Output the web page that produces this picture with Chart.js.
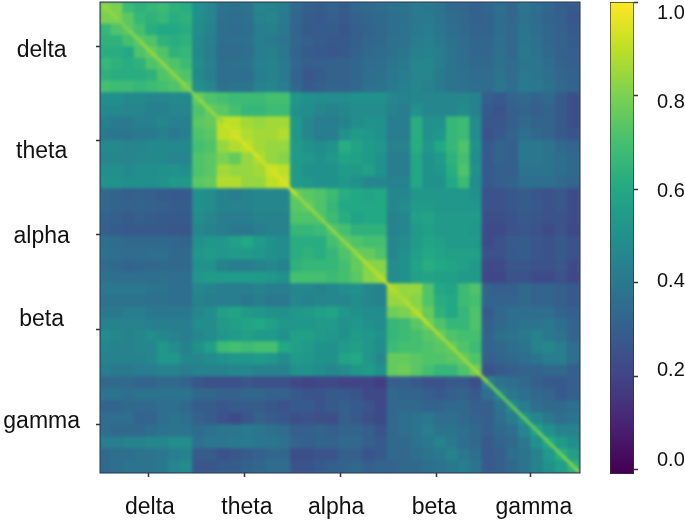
<!DOCTYPE html>
<html>
<head>
<meta charset="utf-8">
<title>Band correlation matrix</title>
<script src="https://cdn.jsdelivr.net/npm/chart.js@4/dist/chart.umd.js"></script>
<style>
    html, body { margin: 0; padding: 0; background: #fff; }
    #page { position: relative; width: 685px; height: 520px; overflow: hidden; }
    #heatBox { position: absolute; left: 100px; top: 2px; width: 480px; height: 471px; overflow: hidden; background: #2a788e; }
    #heatChart { filter: blur(1.6px); }
    #axisChart { position: absolute; left: 0; top: 0; }
    #barChart { position: absolute; left: 600px; top: 0; }
</style>
</head>
<body>
<div id="page">
    <div id="heatBox"><canvas id="heatChart" width="480" height="471"></canvas></div>
    <canvas id="axisChart" width="600" height="520"></canvas>
    <canvas id="barChart" width="85" height="520"></canvas>
</div>
<script>
// Labels
const bands = ['delta', 'theta', 'alpha', 'beta', 'gamma'];
const colorTicks = [0, 0.2, 0.4, 0.6, 0.8, 1];
const colorTickLabels = ['0.0', '0.2', '0.4', '0.6', '0.8', '1.0'];

// Values, in hundredths, 8 cells per band
const deltaRows = [
    [82,80,68,64,66,68,64,62, 50,46,38,37,38,45,44,42, 34,30,29,31,29,33,34,35, 37,38,41,40,38,34,33,31, 33,36,33,39,36,33,30,28],
    [80,80,74,66,64,66,62,64, 49,45,37,36,37,44,45,41, 33,29,28,30,28,31,33,34, 36,37,40,41,38,35,34,31, 32,35,33,38,35,32,30,27],
    [66,72,74,70,62,60,60,62, 48,44,36,35,36,42,43,40, 32,28,29,29,27,30,32,34, 36,38,41,42,39,36,34,32, 32,35,34,39,36,33,31,28],
    [64,64,70,74,72,64,62,64, 47,43,36,36,37,42,41,39, 33,30,29,28,28,30,33,34, 37,38,42,43,40,37,35,33, 33,36,34,39,37,33,31,29],
    [62,62,60,72,76,72,64,66, 47,42,35,35,36,42,43,40, 32,29,28,27,28,31,34,35, 37,39,43,44,42,38,36,33, 33,37,34,40,38,34,31,30],
    [66,64,62,64,72,74,72,68, 48,43,36,37,38,43,44,41, 33,30,30,31,31,33,35,36, 39,41,45,46,42,38,36,34, 34,37,35,39,39,35,32,30],
    [64,62,62,62,64,72,74,72, 47,42,36,36,36,42,44,41, 32,27,29,31,31,33,36,37, 40,42,45,45,41,38,37,35, 35,38,35,41,39,36,33,31],
    [70,68,68,66,68,70,72,76, 49,45,37,38,38,44,45,42, 33,28,30,32,32,34,37,38, 41,43,45,44,41,38,37,36, 35,39,36,41,40,37,34,32]
];
const thetaRows = [
    [49,49,47,47,45,45,47,47, 76,72,70,68,68,68,70,70, 52,50,48,48,48,50,50,50, 46,44,46,46,46,46,46,44, 30,28,32,34,32,34,28,24],
    [47,47,45,45,43,43,45,45, 72,76,74,70,66,66,68,68, 50,48,45,44,46,48,48,48, 44,42,50,46,46,46,48,44, 28,26,30,32,30,32,28,24],
    [43,41,41,43,43,45,43,43, 74,76,90,90,86,84,86,86, 52,46,42,42,44,48,50,50, 42,42,62,50,50,66,68,48, 27,27,30,34,32,32,28,24],
    [41,39,39,41,41,43,41,43, 72,74,90,92,88,86,86,88, 52,46,42,42,50,54,52,50, 42,42,62,50,52,66,68,48, 26,28,32,36,34,32,28,26],
    [47,47,45,45,47,47,47,47, 70,72,84,88,90,86,84,84, 54,50,48,50,62,58,54,52, 44,44,62,52,60,66,72,50, 28,32,30,40,40,38,34,32],
    [45,45,45,47,47,47,45,45, 72,74,80,76,84,88,84,82, 54,52,50,52,58,56,54,50, 42,42,60,50,54,64,70,48, 28,32,30,40,40,38,36,34],
    [49,49,47,49,49,50,51,49, 72,74,86,84,84,86,92,90, 54,50,50,50,54,54,56,50, 42,42,60,50,52,62,72,50, 28,30,30,38,38,38,36,34],
    [51,51,49,49,49,51,53,53, 74,76,88,88,84,84,90,92, 54,52,50,50,52,50,46,46, 44,44,60,50,50,60,68,48, 28,30,32,36,36,36,34,32]
];
const alphaRows = [
    [34,32,30,31,30,29,28,28, 50,48,44,42,44,46,46,46, 76,74,72,68,62,60,58,60, 46,46,52,52,52,52,52,50, 25,25,27,29,27,25,27,23],
    [34,32,31,32,31,30,29,29, 50,48,44,44,44,46,46,46, 74,76,72,66,60,60,60,60, 46,48,54,54,52,52,52,52, 25,25,27,29,28,25,27,23],
    [32,30,29,30,29,28,28,28, 48,46,42,42,42,44,44,44, 72,72,72,68,62,58,60,60, 44,46,56,58,54,54,54,54, 24,24,26,28,27,25,26,23],
    [30,29,28,28,28,28,27,27, 46,44,42,40,40,42,44,44, 66,66,68,72,70,64,64,64, 44,46,54,56,54,54,54,52, 23,23,25,27,25,23,25,22],
    [36,35,34,34,34,34,33,32, 50,52,52,56,60,54,50,48, 62,62,62,70,74,72,70,70, 46,48,54,58,56,54,54,54, 23,25,29,29,27,25,28,25],
    [37,36,35,35,36,36,34,34, 52,54,52,54,54,52,50,48, 62,64,62,66,72,76,76,72, 46,50,56,60,58,56,56,56, 25,25,28,29,27,26,28,25],
    [35,34,32,33,34,34,34,34, 50,50,44,42,42,44,46,44, 64,66,66,66,70,76,82,82, 48,50,58,62,60,58,56,54, 22,23,27,27,25,25,27,23],
    [37,36,36,36,36,37,36,36, 52,54,54,54,54,54,52,50, 70,70,70,68,70,74,82,84, 48,50,56,58,56,56,54,54, 21,21,25,25,23,23,25,21]
];
const betaRows = [
    [40,40,40,40,38,38,36,36, 46,44,42,42,42,44,42,42, 46,46,44,46,48,50,46,44, 86,84,84,72,60,58,68,72, 32,30,30,34,32,32,30,28],
    [38,38,38,38,37,37,36,36, 44,42,42,42,40,42,40,40, 46,44,46,46,46,48,46,44, 84,84,82,72,62,60,68,70, 32,32,32,34,32,32,30,28],
    [40,40,42,42,40,40,40,40, 46,48,56,58,54,52,50,50, 52,54,56,58,52,50,48,48, 78,80,84,76,64,60,66,72, 28,34,36,36,36,36,32,30],
    [44,44,44,44,42,42,42,42, 48,48,54,56,58,60,56,52, 52,52,54,54,50,52,50,48, 66,68,74,78,72,66,66,72, 30,34,36,38,38,40,36,32],
    [48,46,44,46,48,46,44,42, 46,48,52,54,56,54,54,50, 56,56,54,52,50,54,52,50, 66,68,70,74,76,72,70,70, 32,36,38,40,44,40,38,32],
    [46,44,44,46,46,52,48,44, 50,56,68,70,68,70,70,60, 56,54,50,50,54,56,52,48, 68,70,70,72,74,76,72,68, 32,34,36,38,44,46,42,36],
    [44,44,44,44,46,52,52,46, 46,48,50,52,52,54,52,48, 54,52,50,50,58,60,52,46, 76,76,74,72,72,74,76,72, 30,32,34,36,38,42,42,36],
    [42,40,40,42,42,44,44,42, 44,44,44,46,46,44,44,44, 50,50,48,46,48,52,54,50, 76,78,74,70,66,66,72,78, 26,28,30,32,32,34,34,30]
];
const gammaRows = [
    [34,34,34,32,32,34,34,32, 27,25,25,25,27,25,25,25, 22,20,22,22,20,20,20,18, 30,30,28,26,26,28,28,24, 44,38,36,34,30,28,28,30],
    [38,38,36,38,38,38,38,38, 33,33,31,31,33,33,31,31, 28,26,26,28,28,26,22,22, 34,32,32,30,28,30,32,28, 36,44,40,36,34,32,28,30],
    [32,32,34,34,34,36,36,34, 29,29,27,29,29,29,27,25, 28,28,26,28,30,28,26,22, 34,34,34,32,32,34,34,30, 30,38,46,42,36,34,34,36],
    [36,36,36,32,32,36,38,36, 31,29,25,23,27,31,29,27, 24,26,24,24,30,28,24,22, 34,36,38,40,36,36,34,32, 30,36,42,50,46,40,36,38],
    [36,34,34,34,36,38,38,38, 35,37,39,39,41,39,37,35, 30,30,32,30,32,32,30,26, 34,36,38,42,38,38,36,34, 30,34,36,46,56,50,44,44],
    [42,42,44,44,46,46,48,48, 37,39,39,41,41,39,39,37, 32,30,32,32,34,34,30,28, 34,34,38,40,44,40,36,34, 28,32,34,40,50,60,54,48],
    [34,36,36,38,38,40,42,44, 29,29,25,27,29,31,33,33, 24,24,26,26,30,30,26,28, 34,34,36,38,40,44,40,36, 28,30,36,38,44,54,62,56],
    [34,36,38,38,38,40,46,48, 27,27,29,29,31,33,35,35, 26,26,28,30,32,34,30,32, 32,34,34,36,38,40,42,38, 28,30,34,38,44,50,56,64]
];
const cellValues = [...deltaRows, ...thetaRows, ...alphaRows, ...betaRows, ...gammaRows];

// The bright thin line on the diagonal
const diagonalValues = [
    84,80,82,84,84,84,84,82,
    84,84,92,94,94,92,94,94,
    84,84,84,84,86,88,90,90,
    88,90,92,88,86,86,86,86,
    78,76,78,78,80,80,82,84
];

// Axis ticks, in matrix units (0 - 100)
const bandEdges = [0, 19.3, 39.7, 59.9, 79.6, 100];
const xTickValues = [10, 30, 50, 70, 89.6];
const yTickValues = [9.4, 29.5, 49.4, 69.6, 89.6];
const xLabelValues = [10.4, 30.6, 49.2, 69.6, 90.4];
const yLabelValues = [10.4, 31.8, 49.8, 67.4, 89.2];

// Viridis
const viridis = ['#440154','#482475','#414487','#355f8d','#2a788e','#21918c','#22a884','#44bf70','#7ad151','#bddf26','#fde725'];
const viridisRgb = viridis.map(function(hex){
    return [1, 3, 5].map(function(i){ return parseInt(hex.substr(i, 2), 16); });
});
function colorFor(value){
    const pos = Math.min(Math.max(value, 0), 0.9999) * (viridis.length - 1);
    const low = Math.floor(pos);
    const part = pos - low;
    const rgb = viridisRgb[low].map(function(c, i){ return Math.round(c + (viridisRgb[low + 1][i] - c) * part); });
    return 'rgb(' + rgb.join(',') + ')';
}

// Cell centres, each band is cut in 8
function centerOf(index){
    const band = Math.floor(index / 8);
    const width = bandEdges[band + 1] - bandEdges[band];
    return bandEdges[band] + width * ((index % 8) + 0.5) / 8;
}
const cellPoints = [];
cellValues.forEach(function(row, r){
    row.forEach(function(value, c){
        cellPoints.push({ x: centerOf(c), y: centerOf(r), v: value / 100 });
    });
});
const diagonalPoints = diagonalValues.map(function(value, i){
    return { x: centerOf(i), y: centerOf(i), v: value / 100 };
});
diagonalPoints.unshift({ x: 0, y: 0, v: diagonalValues[0] / 100 });
diagonalPoints.push({ x: 100, y: 100, v: diagonalValues[diagonalValues.length - 1] / 100 });

Chart.defaults.font.family = '"Liberation Sans", Arial, sans-serif';
Chart.defaults.animation = false;
Chart.defaults.responsive = false;
Chart.defaults.plugins.legend.display = false;
Chart.defaults.plugins.tooltip.enabled = false;

// Heatmap
new Chart(document.getElementById('heatChart').getContext('2d'), {
    type: 'scatter',
    data: {
        datasets: [
            {
                data: diagonalPoints,
                showLine: true,
                pointRadius: 0,
                borderWidth: 3,
                borderColor: '#bddf26',
                segment: {
                    borderColor: function(ctx){ return colorFor(ctx.p0.raw.v); }
                }
            },
            {
                data: cellPoints,
                pointStyle: 'rect',
                pointRadius: 9.4,
                pointBorderWidth: 0,
                pointBackgroundColor: function(ctx){ return colorFor(ctx.raw.v); }
            }
        ]
    },
    options: {
        events: [],
        layout: { padding: 0, autoPadding: false },
        scales: {
            x: { display: false, min: 0, max: 100 },
            y: { display: false, min: 0, max: 100, reverse: true }
        }
    }
});

// Axes, tick marks and labels sit apart because the labels were placed by hand
function fixedTicks(values){
    return function(scale){
        scale.ticks = values.map(function(value){ return { value: value }; });
    };
}
// Tick labels must not push the chart area around
function fixBox(width, height){
    return function(scale){
        if (scale.isHorizontal()) scale.height = height; else scale.width = width;
        scale.paddingLeft = scale.paddingRight = scale.paddingTop = scale.paddingBottom = 0;
    };
}
const markGrid = { drawOnChartArea: false, drawTicks: true, tickLength: 4, tickColor: '#333', tickWidth: 1.5 };
const noGrid = { drawOnChartArea: false, drawTicks: false };
const labelFont = { size: 23 };

new Chart(document.getElementById('axisChart').getContext('2d'), {
    type: 'scatter',
    data: { datasets: [] },
    options: {
        events: [],
        layout: { padding: { left: 0, right: 20, top: 2, bottom: 0 }, autoPadding: false },
        scales: {
            x: {
                position: 'bottom', min: 0, max: 100, weight: 0,
                afterBuildTicks: fixedTicks(xTickValues), afterFit: fixBox(0, 0),
                grid: markGrid, border: { display: false },
                ticks: { display: false }
            },
            y: {
                position: 'left', min: 0, max: 100, reverse: true, weight: 0,
                afterBuildTicks: fixedTicks(yTickValues), afterFit: fixBox(0, 0),
                grid: markGrid, border: { display: false },
                ticks: { display: false }
            },
            xLabels: {
                axis: 'x', position: 'bottom', min: 0, max: 100, weight: 1,
                afterBuildTicks: fixedTicks(xLabelValues), afterFit: fixBox(0, 47),
                grid: noGrid, border: { display: false },
                ticks: {
                    autoSkip: false, maxRotation: 0, padding: 21, color: '#111', font: labelFont,
                    callback: function(value, i){ return bands[i]; }
                }
            },
            yLabels: {
                axis: 'y', position: 'left', min: 0, max: 100, reverse: true, weight: 1,
                afterBuildTicks: fixedTicks(yLabelValues), afterFit: fixBox(100, 0),
                grid: noGrid, border: { display: false },
                ticks: {
                    autoSkip: false, padding: 20, crossAlign: 'center', color: '#111', font: labelFont,
                    callback: function(value, i){ return bands[i]; }
                }
            }
        }
    },
    plugins: [{
        id: 'frame',
        afterDraw: function(chart){
            const area = chart.chartArea;
            const ctx = chart.ctx;
            ctx.save();
            ctx.strokeStyle = '#2e3350';
            ctx.lineWidth = 1;
            ctx.strokeRect(area.left, area.top, area.right - area.left, area.bottom - area.top);
            ctx.restore();
        }
    }]
});

// Colorbar
new Chart(document.getElementById('barChart').getContext('2d'), {
    type: 'bar',
    data: {
        labels: ['value'],
        datasets: [{
            data: [[-0.0086, 1.001]],
            barPercentage: 1,
            categoryPercentage: 1,
            borderWidth: 1,
            borderColor: '#333',
            borderSkipped: false,
            backgroundColor: function(ctx){
                const area = ctx.chart.chartArea;
                if (!area) return viridis[5];
                const scale = ctx.chart.scales.y;
                const fill = ctx.chart.ctx.createLinearGradient(0, scale.getPixelForValue(0), 0, scale.getPixelForValue(1));
                viridis.forEach(function(color, i){ fill.addColorStop(i / (viridis.length - 1), color); });
                return fill;
            }
        }]
    },
    options: {
        events: [],
        layout: { padding: { left: 10, right: 0, top: 2, bottom: 46 }, autoPadding: false },
        scales: {
            x: { display: false },
            y: {
                position: 'right', min: -0.0086, max: 1.001, weight: 0,
                afterBuildTicks: fixedTicks(colorTicks), afterFit: fixBox(0, 0),
                grid: markGrid, border: { display: false },
                ticks: { display: false }
            },
            yLabels: {
                axis: 'y', position: 'right', min: -0.031, max: 1.025, weight: 1,
                afterBuildTicks: fixedTicks(colorTicks), afterFit: fixBox(51, 0),
                grid: noGrid, border: { display: false },
                ticks: {
                    autoSkip: false, padding: 23, color: '#111', font: { size: 20 },
                    callback: function(value, i){ return colorTickLabels[i]; }
                }
            }
        }
    }
});
</script>
</body>
</html>
